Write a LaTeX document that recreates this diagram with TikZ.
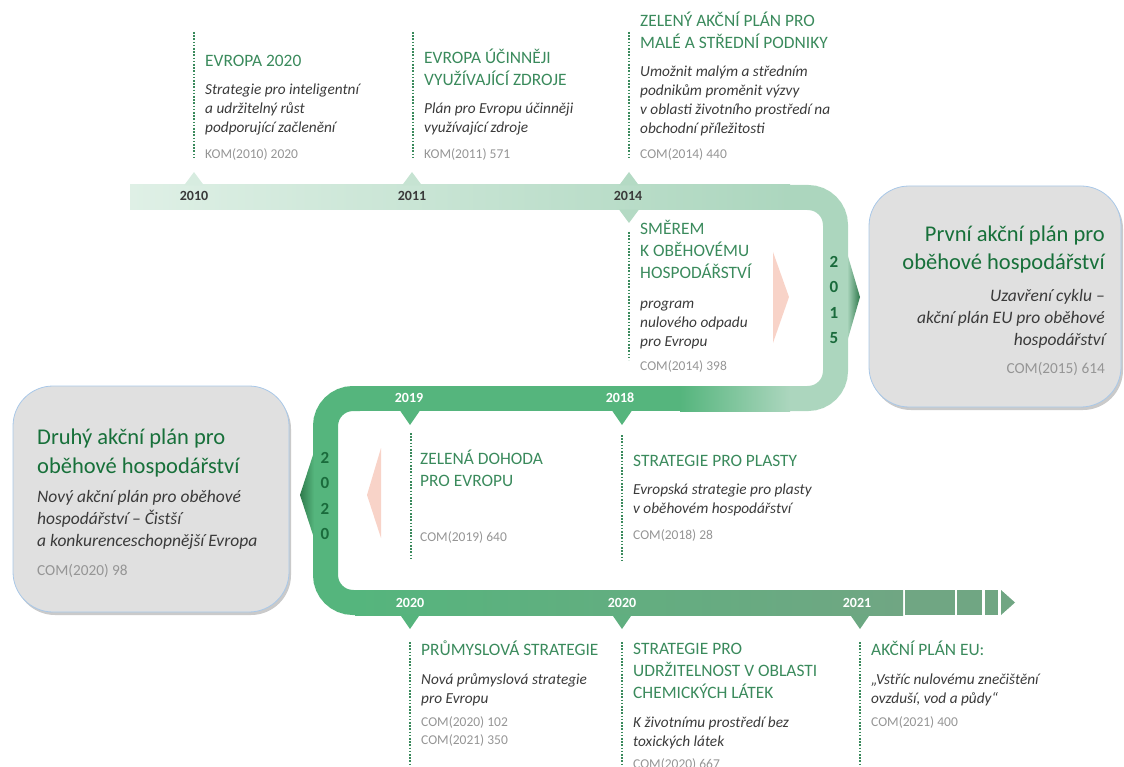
\documentclass[tikz,border=0pt]{standalone}
\usepackage{fontspec}
\setmainfont{Carlito}
\usepackage{xcolor}
\usetikzlibrary{shadows,positioning}
\definecolor{titlegreen}{HTML}{3A8A5C}
\definecolor{boxgreen}{HTML}{17703A}
\definecolor{textgrey}{HTML}{3A3A3A}
\definecolor{comgrey}{HTML}{959595}
\definecolor{digitgreen}{HTML}{1A6B3C}
\definecolor{bandpale}{HTML}{DFF0E6}
\definecolor{bandlight}{HTML}{ACD6BE}
\definecolor{bandmid}{HTML}{55B57D}
\definecolor{bandend}{HTML}{70A683}
\definecolor{bulgedark}{HTML}{2F7A4C}
\definecolor{pinkarrow}{HTML}{F8D3C8}
\definecolor{boxfill}{HTML}{E0E0E0}
\definecolor{boxline}{HTML}{A9C8E8}
% multi-line nodes: base anchor sits on the last line
\tikzset{
  headline/.style={anchor=base west,inner sep=0pt,align=left,text=titlegreen,
    font=\fontsize{17.4}{22}\selectfont},
  descline/.style={anchor=base west,inner sep=0pt,align=left,text=textgrey,
    font=\itshape\fontsize{15.3}{18.7}\selectfont},
  comline/.style={anchor=base west,inner sep=0pt,align=left,text=comgrey,
    font=\fontsize{13.5}{18}\selectfont},
  yearlabel/.style={inner sep=0pt,font=\bfseries\fontsize{14}{14}\selectfont},
  turnyear/.style={inner sep=0pt,align=center,text=digitgreen,
    font=\bfseries\fontsize{17}{25.3}\selectfont},
  tick/.style={draw=titlegreen,line width=1.6pt,dash pattern=on 1.6pt off 1.6pt},
  bigbox/.style={fill=boxfill,draw=boxline,line width=0.8pt,rounded corners=40,
    drop shadow={shadow xshift=2pt,shadow yshift=-3pt,opacity=0.35,fill=black!60}},
  bigtitle/.style={inner sep=0pt,text=boxgreen,font=\fontsize{22.5}{28.5}\selectfont},
  bigdesc/.style={inner sep=0pt,text=textgrey,font=\itshape\fontsize{17.5}{22}\selectfont},
  bigcom/.style={inner sep=0pt,text=comgrey,font=\fontsize{15.3}{15.3}\selectfont},
  band/.style={line width=25,rounded corners=27.5}
}
\begin{document}
\begin{tikzpicture}[x=1pt,y=-1pt]
\useasboundingbox (0,0) rectangle (1124,767);
% the band
\draw[band,bandlight] (780,197.5) -- (835.5,197.5) -- (835.5,398.5) -- (780,398.5);
\draw[band,bandmid] (360,398.5) -- (325.5,398.5) -- (325.5,602.5) -- (360,602.5);
\shade[left color=bandpale,right color=bandlight] (130,185) rectangle (790,210);
\fill[bandmid] (355,386) rectangle (681,411);
\shade[left color=bandmid,right color=bandlight] (680,386) rectangle (790,411);
\shade[left color=bandmid,right color=bandend] (355,590) rectangle (903,615);
\fill[bandend] (905,590) rectangle (955,615);
\fill[bandend] (957,590) rectangle (982,615);
\fill[bandend] (985,590) rectangle (998,615);
\fill[bandend] (1001,590) -- (1015,602.5) -- (1001,615) -- cycle;
% turning arrows
\shade[left color=bandlight,right color=bulgedark] (847,253) -- (860,297) -- (847,342) -- cycle;
\shade[left color=bulgedark,right color=bandmid] (314,452) -- (300,495) -- (314,538) -- cycle;
\fill[pinkarrow] (773,252) -- (789,297) -- (773,343) -- cycle;
\fill[pinkarrow] (381,448) -- (367,495) -- (381,538) -- cycle;
% year markers
\foreach \x/\c in {194/bandpale!85!bandlight, 412/bandpale!50!bandlight, 629/bandpale!15!bandlight}
  \fill[\c] (\x-10,185.5) -- (\x,172) -- (\x+10,185.5) -- cycle;
\fill[bandpale!15!bandlight] (619,209.5) -- (629,223) -- (639,209.5) -- cycle;
\foreach \x in {410,622}
  \fill[bandmid] (\x-10,410.5) -- (\x,425) -- (\x+10,410.5) -- cycle;
\foreach \x/\c in {410/bandmid!95!bandend, 622/bandmid!60!bandend, 860/bandmid!15!bandend}
  \fill[\c] (\x-10,614.5) -- (\x,629) -- (\x+10,614.5) -- cycle;
% year labels
\node[yearlabel,text=textgrey] (y2010) at (194,196) {2010};
\node[yearlabel,text=textgrey] (y2011) at (412,196) {2011};
\node[yearlabel,text=textgrey] (y2014) at (628,196) {2014};
\node[yearlabel,text=white] (y2019) at (409,398) {2019};
\node[yearlabel,text=white] (y2018) at (620,398) {2018};
\node[yearlabel,text=white] (y2020a) at (410,603) {2020};
\node[yearlabel,text=white] (y2020b) at (622,603) {2020};
\node[yearlabel,text=white] (y2021) at (857,603) {2021};
\node[turnyear] (y2015) at (834,300) {2\\0\\1\\5};
\node[turnyear] (y2020c) at (325,496) {2\\0\\2\\0};
% dotted leaders
\foreach \n/\x/\ya/\yb in {evropa/194/32/157, zdroje/413/32/157, msp/629/32/157,
    smerem/629/232/360, dohoda/411/433/560, plasty/622/435/560,
    prumysl/410/642/767, chem/622/642/767, akcni/860/642/767}{
  \coordinate (\n-a) at (\x,\ya);
  \coordinate (\n-b) at (\x,\yb);
  \draw[tick] (\n-a) -- (\n-b);
}
% top row
\node[headline] (evropa-t) at (205,66.5) {EVROPA 2020};
\node[descline] (evropa-d) at (205,132.4) {Strategie pro inteligentní\\a udržitelný růst\\podporující začlenění};
\node[comline] (evropa-c) at (205,158.5) {KOM(2010) 2020};
\node[headline] (zdroje-t) at (424,85.5) {EVROPA ÚČINNĚJI\\VYUŽÍVAJÍCÍ ZDROJE};
\node[descline] (zdroje-d) at (424,132.7) {Plán pro Evropu účinněji\\využívající zdroje};
\node[comline] (zdroje-c) at (424,158.5) {KOM(2011) 571};
\node[headline] (msp-t) at (640,48.5) {ZELENÝ AKČNÍ PLÁN PRO\\MALÉ A STŘEDNÍ PODNIKY};
\node[descline] (msp-d) at (640,133.1) {Umožnit malým a středním\\podnikům proměnit výzvy\\v oblasti životního prostředí na\\obchodní příležitosti};
\node[comline] (msp-c) at (640,158.5) {COM(2014) 440};
% middle row
\node[headline] (smerem-t) at (640,278.5) {SMĚREM\\K OBĚHOVÉMU\\HOSPODÁŘSTVÍ};
\node[descline] (smerem-d) at (640,346) {program\\nulového odpadu\\pro Evropu};
\node[comline] (smerem-c) at (640,370.5) {COM(2014) 398};
\node[headline] (dohoda-t) at (420,486.5) {ZELENÁ DOHODA\\PRO EVROPU};
\node[comline] (dohoda-c) at (420,541.5) {COM(2019) 640};
\node[headline] (plasty-t) at (633,466.5) {STRATEGIE PRO PLASTY};
\node[descline] (plasty-d) at (633,513) {Evropská strategie pro plasty\\v oběhovém hospodářství};
\node[comline] (plasty-c) at (633,539.5) {COM(2018) 28};
% bottom row
\node[headline] (prumysl-t) at (421,655.5) {PRŮMYSLOVÁ STRATEGIE};
\node[descline] (prumysl-d) at (421,703) {Nová průmyslová strategie\\pro Evropu};
\node[comline] (prumysl-c) at (421,744.5) {COM(2020) 102\\COM(2021) 350};
\node[headline] (chem-t) at (633,698.5) {STRATEGIE PRO\\UDRŽITELNOST V OBLASTI\\CHEMICKÝCH LÁTEK};
\node[descline] (chem-d) at (633,746) {K životnímu prostředí bez\\toxických látek};
\node[comline] (chem-c) at (633,768.5) {COM(2020) 667};
\node[headline] (akcni-t) at (871,655.5) {AKČNÍ PLÁN EU:};
\node[descline] (akcni-d) at (871,703) {„Vstříc nulovému znečištění\\ovzduší, vod a půdy“};
\node[comline] (akcni-c) at (871,726.5) {COM(2021) 400};
% the two action plans
\path[bigbox] (869,186) rectangle (1121,407);
\node[bigtitle,anchor=base east,align=right] (plan1-t) at (1105,270) {První akční plán pro\\oběhové hospodářství};
\node[bigdesc,anchor=base east,align=right] (plan1-d) at (1105,345.5) {Uzavření cyklu –\\akční plán EU pro oběhové\\hospodářství};
\node[bigcom,anchor=base east] (plan1-c) at (1105,373) {COM(2015) 614};
\path[bigbox] (13,386) rectangle (289,612);
\node[bigtitle,anchor=base west,align=left] (plan2-t) at (37,473) {Druhý akční plán pro\\oběhové hospodářství};
\node[bigdesc,anchor=base west,align=left] (plan2-d) at (37,546) {Nový akční plán pro oběhové\\hospodářství – Čistší\\a konkurenceschopnější Evropa};
\node[bigcom,anchor=base west] (plan2-c) at (37,575) {COM(2020) 98};
\end{tikzpicture}
\end{document}
